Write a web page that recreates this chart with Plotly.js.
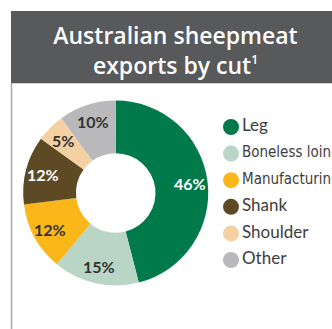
<!DOCTYPE html>
<html>
<head>
<meta charset="utf-8">
<script src="https://cdn.plot.ly/plotly-3.0.1.min.js"></script>
<style>
  html, body { margin: 0; padding: 0; background: #ffffff; }
  #chart { width: 332px; height: 329px; }
</style>
</head>
<body>
<div id="chart"></div>
<script>
// Share of Australian sheepmeat exports, by cut (%)
const categories = ['Leg', 'Boneless loin', 'Manufacturing', 'Shank', 'Shoulder', 'Other'];
const shares = [46, 15, 12, 12, 5, 10];
const sliceColours = ['#00794b', '#b8d5c5', '#fbb61a', '#5d4a25', '#f5d0a3', '#b9b9bb'];
const labelColours = ['#ffffff', '#333333', '#333333', '#ffffff', '#333333', '#333333'];
// the two long names use a narrower face / size so they fit the column
const legendFaces = ['Lato', 'DejaVu Sans Condensed, Lato', 'DejaVu Sans Condensed, Lato', 'Lato', 'Lato', 'Lato'];
const legendSizes = [17, 15, 15, 17, 17, 17];

const W = 332, H = 329;
const px = x => x / W;          // pixel -> paper x
const py = y => 1 - y / H;      // pixel -> paper y

// donut placement (pixels)
const CX = 115.75, CY = 193, R = 92.5;
const HOLE = 0.43;
const LABEL_R = 0.81;           // label distance, as a fraction of the outer radius
const pieDomain = { x: [px(CX - R), px(CX + R)], y: [py(CY + R), py(CY - R)] };

const donut = {
  type: 'pie',
  labels: categories,
  values: shares,
  textinfo: 'none',
  sort: false,
  direction: 'clockwise',
  rotation: 0,
  hole: HOLE,
  marker: { colors: sliceColours, line: { width: 0 } },
  domain: pieDomain,
  showlegend: false,
  hoverinfo: 'label+percent'
};

// percentage labels sit on each slice's mid angle, out towards the rim
const total = shares.reduce((a, b) => a + b, 0);
let running = 0;
const sliceLabels = shares.map((v, i) => {
  const mid = (running + v / 2) / total * 2 * Math.PI;
  running += v;
  return {
    xref: 'paper', yref: 'paper',
    x: px(CX + R * LABEL_R * Math.sin(mid)),
    y: py(CY - R * LABEL_R * Math.cos(mid)),
    xanchor: 'center', yanchor: 'middle',
    text: v + '%',
    showarrow: false,
    font: { family: 'Lato', size: 16, weight: 700, color: labelColours[i] }
  };
});

// Legend column: round swatches with the category names
const legendKey = {
  type: 'scatter',
  mode: 'markers+text',
  x: categories.map(() => 0),
  y: categories.map((_, i) => i),
  marker: { size: 16, color: sliceColours, line: { width: 0 } },
  text: categories,
  textposition: 'middle right',
  textfont: { family: legendFaces, size: legendSizes, color: '#3d3d3d' },
  cliponaxis: false,
  showlegend: false,
  hoverinfo: 'skip'
};

const layout = {
  width: W,
  height: H,
  margin: { l: 0, r: 0, t: 0, b: 0 },
  paper_bgcolor: '#ffffff',
  plot_bgcolor: 'rgba(0,0,0,0)',
  showlegend: false,
  title: {
    text: 'Australian sheepmeat<br>exports by cut<sup><span style="font-size:12px">1</span></sup>',
    font: { family: 'Open Sans', size: 23, weight: 600, color: '#ffffff' },
    x: px(175.5), xref: 'paper', xanchor: 'center',
    y: py(44), yref: 'paper', yanchor: 'middle'
  },
  annotations: sliceLabels,
  xaxis: { domain: [px(231), 1], range: [0, 1], visible: false, fixedrange: true },
  yaxis: { domain: [py(260), py(127)], range: [5, 0], visible: false, fixedrange: true },
  shapes: [
    // header band
    { type: 'rect', xref: 'paper', yref: 'paper', layer: 'below',
      x0: px(11), x1: px(340), y0: py(83), y1: py(11),
      fillcolor: '#58595b', line: { width: 0 } },
    // light rule under the header
    { type: 'line', xref: 'paper', yref: 'paper', layer: 'below',
      x0: px(11), x1: px(340), y0: py(83.5), y1: py(83.5),
      line: { color: '#d0d0d0', width: 1 } },
    // left frame line
    { type: 'line', xref: 'paper', yref: 'paper', layer: 'below',
      x0: px(11.5), x1: px(11.5), y0: py(83), y1: py(335),
      line: { color: '#a9a9ab', width: 1.5 } }
  ]
};

Plotly.newPlot('chart', [donut, legendKey], layout, { displayModeBar: false, staticPlot: true });
</script>
</body>
</html>
